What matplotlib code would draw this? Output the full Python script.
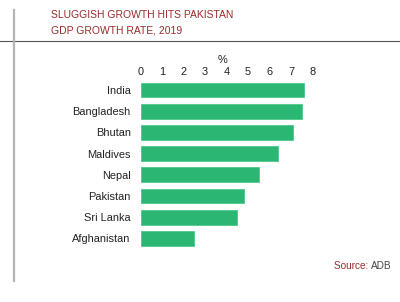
import matplotlib
matplotlib.use("Agg")
import matplotlib.pyplot as plt
from matplotlib.lines import Line2D

countries = ["India", "Bangladesh", "Bhutan", "Maldives", "Nepal", "Pakistan", "Sri Lanka", "Afghanistan"]
growth = [7.6, 7.5, 7.1, 6.4, 5.5, 4.8, 4.5, 2.5]
xticks = [0, 1, 2, 3, 4, 5, 6, 7, 8]
title1 = "SLUGGISH GROWTH HITS PAKISTAN"
title2 = "GDP GROWTH RATE, 2019"

W, H = 400, 302
plt.rcParams['font.family'] = ['Liberation Sans', 'DejaVu Sans']
fig = plt.figure(figsize=(W / 100, H / 100), dpi=100)
fig.patch.set_facecolor('white')

red = '#9b2b2e'
green = '#2bb673'
txt = '#222222'

# decorative lines
fig.add_artist(Line2D([0, 1], [1 - 40.5 / H, 1 - 40.5 / H], color='#555555', lw=0.8, transform=fig.transFigure))
fig.add_artist(Line2D([14 / W, 14 / W], [1 - 10 / H, 1 - 281 / H], color='#b5b5b5', lw=1.6, transform=fig.transFigure))

fig.text(51 / W, 1 - 15.5 / H, title1, color=red, fontsize=7.45, ha='left', va='center')
fig.text(51 / W, 1 - 30.5 / H, title2, color=red, fontsize=7.45, ha='left', va='center')

left = 140.5 / W
right = 312.7 / W
top = 79.4
bottom = 249.1
ax = fig.add_axes([left, 1 - bottom / H, right - left, (bottom - top) / H])
ypos = list(range(len(countries)))
ax.barh(ypos, growth, height=0.7, color=green, edgecolor='#4cc98a', linewidth=0.6)
ax.set_xlim(0, 8)
ax.set_ylim(len(countries) - 0.5, -0.5)
ax.set_yticks(ypos)
ax.set_yticklabels(countries, fontsize=7.9, color=txt)
ax.set_xticks(xticks)
ax.set_xticklabels([str(t) for t in xticks], fontsize=7.9, color=txt)
ax.xaxis.tick_top()
ax.tick_params(axis='both', length=0)
ax.tick_params(axis='y', pad=7)
ax.tick_params(axis='x', pad=1.5)
for s in ax.spines.values():
    s.set_visible(False)

fig.text(223 / W, 1 - 60 / H, "%", color=txt, fontsize=7.9, ha='center', va='center')

t1 = fig.text(334 / W, 1 - 266 / H, "Source: ", color=red, fontsize=7.2, ha='left', va='center')
fig.canvas.draw()
bb = t1.get_window_extent()
fig.text(bb.x1 / W, 1 - 266 / H, "ADB", color='#444444', fontsize=7.2, ha='left', va='center')

fig.savefig("out.png", dpi=100, facecolor='white')
